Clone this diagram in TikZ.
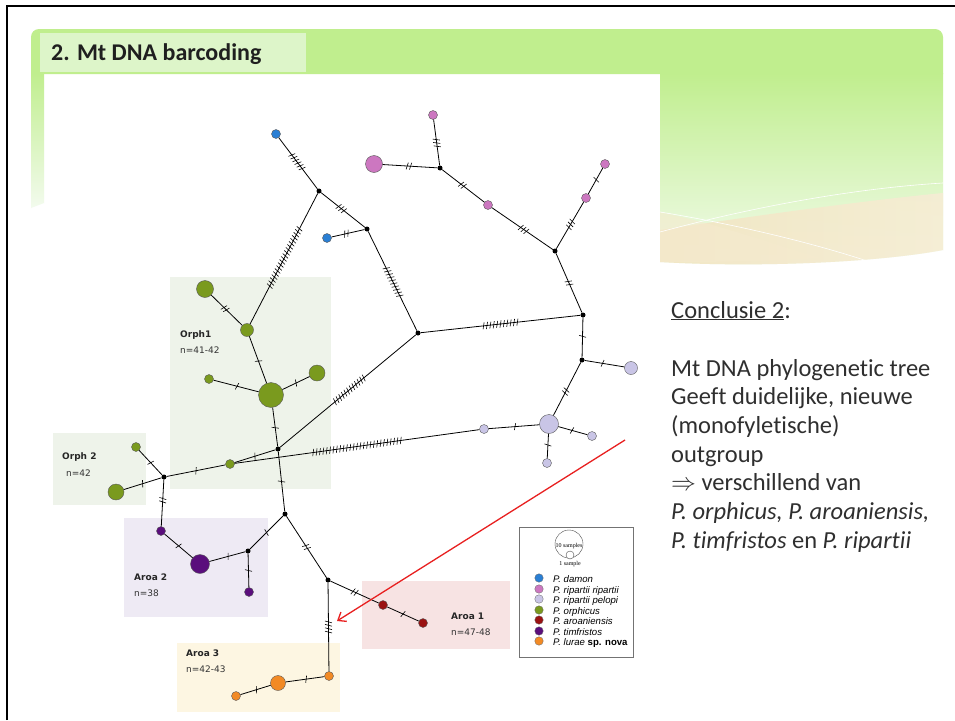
\documentclass[tikz,border=0pt]{standalone}
\usepackage{fontspec}
\setmainfont{Carlito}[Ligatures={TeX,NoCommon}]
\newfontfamily\verd{DejaVu Sans}
\newfontfamily\arial{Liberation Sans}
\newfontfamily\tnr{Liberation Serif}
\usetikzlibrary{calc,arrows.meta}
\definecolor{cdam}{HTML}{2A7FD4}
\definecolor{crip}{HTML}{CC77C0}
\definecolor{cpel}{HTML}{C9C5E6}
\definecolor{corph}{HTML}{7A9A1E}
\definecolor{caro}{HTML}{9A1212}
\definecolor{ctim}{HTML}{5A0E7C}
\definecolor{clur}{HTML}{F28A25}
\definecolor{bxO}{HTML}{EEF3EA}
\definecolor{bxAtwo}{HTML}{EEEAF4}
\definecolor{bxAone}{HTML}{F7E3E3}
\definecolor{bxAthree}{HTML}{FDF6E2}
\definecolor{hdrc}{HTML}{C0EE8E}
\definecolor{ttlc}{HTML}{DDF5C9}
\definecolor{palegr}{HTML}{F3FBEE}
\definecolor{beige}{HTML}{F2E5C2}
\definecolor{txtc}{HTML}{2F2F2F}
\definecolor{arrred}{HTML}{E82020}
\newcommand\tks[4]{%
  \path (#1) -- (#2) coordinate[pos=#4] (tkc);
  \foreach \i in {1,...,#3}{%
    \pgfmathsetmacro\tkoff{(\i-(#3+1)/2)*3.4}%
    \coordinate (tkp) at ($(tkc)!\tkoff pt!(#2)$);
    \draw[tkl] ($(tkp)!3.6pt!75:(#2)$) -- ($(tkp)!3.6pt!-105:(#2)$);
  }}
\begin{document}
\begin{tikzpicture}[x=1pt,y=-1pt,
  hap/.style={circle,draw=black!65,line width=0.4pt,inner sep=0pt,minimum size=9pt},
  jn/.style={circle,fill=black,inner sep=0pt,minimum size=5pt},
  lnk/.style={draw=black,line width=0.8pt},
  tkl/.style={draw=black,line width=0.6pt},
  grp/.style={anchor=north west,inner sep=0pt,draw=none},
  lab/.style={anchor=base west,inner sep=0pt,font=\verd\bfseries\fontsize{9}{10}\selectfont,text=black!85},
  labn/.style={anchor=base west,inner sep=0pt,font=\verd\fontsize{9}{10}\selectfont,text=black!80},
  ctxt/.style={anchor=base west,inner sep=0pt,font=\fontsize{24.5}{28}\selectfont,text=txtc},
  legt/.style={anchor=base west,inner sep=0pt,font=\arial\itshape\fontsize{9.6}{11}\selectfont},
  legd/.style={circle,draw=black!60,line width=0.3pt,inner sep=0pt,minimum size=8.5pt},
]
\useasboundingbox (0,0) rectangle (955,720);
\fill[white] (0,0) rectangle (955,720);
% slide frame
\draw[black,line width=2pt] (7,720) -- (7,6) -- (955,6);
% header band
\fill[hdrc] (31,74) [rounded corners=8pt] -- (31,29) -- (943,29) [sharp corners] -- (943,74) -- cycle;
\shade[top color=hdrc,bottom color=palegr] (31,73) -- (44,73) -- (44,203) -- (31,208) -- cycle;
\shade[top color=hdrc,bottom color=palegr] (660,73) -- (943,73) -- (943,250) .. controls (880,262) and (760,268) .. (660,262) -- cycle;
\shade[left color=beige,right color=beige!70,opacity=0.9] (660,230) .. controls (760,215) and (870,200) .. (943,193) -- (943,250) .. controls (880,262) and (760,268) .. (660,262) -- cycle;
\fill[beige!80!white,opacity=0.6] (660,212) .. controls (720,225) and (760,240) .. (820,258) .. controls (760,262) and (700,262) .. (660,262) -- cycle;
\draw[white,line width=0.6pt] (660,232) .. controls (760,205) and (860,188) .. (943,183);
\draw[white,line width=0.6pt] (660,212) .. controls (740,225) and (820,245) .. (870,262);
% title
\node[fill=ttlc,minimum width=266pt,minimum height=39pt,anchor=north west,inner sep=0pt] (tbox) at (40,33) {};
\node[anchor=base west,inner sep=0pt,font=\bfseries\fontsize{24}{28}\selectfont,text=black!88] (title) at (51,60) {2. Mt DNA barcoding};

% group boxes
\node[grp,fill=bxO,minimum width=161pt,minimum height=212pt] (gO1) at (170,277) {};
\node[grp,fill=bxO,minimum width=93pt,minimum height=72pt] (gO2) at (53,433) {};
\node[grp,fill=bxAtwo,minimum width=144pt,minimum height=99pt] (gA2) at (124,518) {};
\node[grp,fill=bxAone,minimum width=148pt,minimum height=68pt] (gA1) at (362,581) {};
\node[grp,fill=bxAthree,minimum width=163pt,minimum height=69pt] (gA3) at (177,643) {};

% group labels
\node[lab] (lO1) at (180,337) {Orph1};
\node[labn] (nO1) at (180,353) {n=41-42};
\node[lab] (lO2) at (62,459) {Orph 2};
\node[labn] (nO2) at (66,476) {n=42};
\node[lab] (lA2) at (134,580) {Aroa 2};
\node[labn] (nA2) at (134,596) {n=38};
\node[lab] (lA3) at (186,656) {Aroa 3};
\node[labn] (nA3) at (186,672) {n=42-43};
\node[lab] (lA1) at (451,619) {Aroa 1};
\node[labn] (nA1) at (451,635) {n=47-48};

% junctions
\node[jn] (J1) at (319,191) {};
\node[jn] (J2) at (367,229) {};
\node[jn] (J3) at (418,333) {};
\node[jn] (J4) at (440,168) {};
\node[jn] (J5) at (555,251) {};
\node[jn] (J6) at (583,315) {};
\node[jn] (J7) at (582,360) {};
\node[jn] (J8) at (278,449) {};
\node[jn] (J9) at (285,514) {};
\node[jn] (J10) at (164,477) {};
\node[jn] (J11) at (328,580) {};
\node[jn] (J12) at (248,551) {};
% haplotypes
\node[hap,fill=cdam] (dA) at (276,134) {};
\node[hap,fill=cdam] (dB) at (327,238) {};
\node[hap,fill=crip] (rT) at (433,115) {};
\node[hap,fill=crip,minimum size=17pt] (rBig) at (374,164) {};
\node[hap,fill=crip] (rM) at (488,205) {};
\node[hap,fill=crip] (rUR) at (605,164) {};
\node[hap,fill=crip] (rB) at (586,198) {};
\node[hap,fill=cpel,minimum size=13pt] (pR) at (631,368) {};
\node[hap,fill=cpel,minimum size=19pt] (pBig) at (549,424) {};
\node[hap,fill=cpel] (pS) at (484,429) {};
\node[hap,fill=cpel] (pRS) at (592,436) {};
\node[hap,fill=cpel] (pD) at (547,463) {};
\node[hap,fill=corph,minimum size=25pt] (oBig) at (271,395) {};
\node[hap,fill=corph,minimum size=13pt] (oM) at (247,330) {};
\node[hap,fill=corph,minimum size=17pt] (oT) at (205,289) {};
\node[hap,fill=corph] (oL) at (209,379) {};
\node[hap,fill=corph,minimum size=16pt] (oR) at (317,373) {};
\node[hap,fill=corph] (oS) at (230,464) {};
\node[hap,fill=corph] (oTL) at (136,447) {};
\node[hap,fill=corph,minimum size=16pt] (oBL) at (116,492) {};
\node[hap,fill=ctim,minimum size=19pt] (tBig) at (200,564) {};
\node[hap,fill=ctim] (tTL) at (161,531) {};
\node[hap,fill=ctim] (tB) at (249,592) {};
\node[hap,fill=caro] (aA) at (383,605) {};
\node[hap,fill=caro] (aB) at (423,623) {};
\node[hap,fill=clur] (lR) at (329,676) {};
\node[hap,fill=clur,minimum size=15pt] (lBig) at (278,683) {};
\node[hap,fill=clur] (lL) at (236,696) {};

% connectors
\draw[lnk] (dA) -- (J1); \tks{dA}{J1}{6}{0.47}
\draw[lnk] (J1) -- (J2); \tks{J1}{J2}{3}{0.46}
\draw[lnk] (J2) -- (dB); \tks{J2}{dB}{2}{0.55}
\draw[lnk] (J1) -- (oM); \tks{J1}{oM}{20}{0.49}
\draw[lnk] (J2) -- (J3); \tks{J2}{J3}{10}{0.51}
\draw[lnk] (J3) -- (J6); \tks{J3}{J6}{11}{0.5}
\draw[lnk] (J6) -- (J5); \tks{J6}{J5}{2}{0.5}
\draw[lnk] (J5) -- (rB); \tks{J5}{rB}{3}{0.52}
\draw[lnk] (rB) -- (rUR); \tks{rB}{rUR}{1}{0.55}
\draw[lnk] (J5) -- (rM); \tks{J5}{rM}{3}{0.48}
\draw[lnk] (rM) -- (J4); \tks{rM}{J4}{2}{0.52}
\draw[lnk] (J4) -- (rBig); \tks{J4}{rBig}{2}{0.52}
\draw[lnk] (J4) -- (rT); \tks{J4}{rT}{3}{0.49}
\draw[lnk] (J6) -- (J7); \tks{J6}{J7}{1}{0.47}
\draw[lnk] (J7) -- (pR); \tks{J7}{pR}{1}{0.45}
\draw[lnk] (J7) -- (pBig); \tks{J7}{pBig}{2}{0.55}
\draw[lnk] (pBig) -- (pRS); \tks{pBig}{pRS}{1}{0.47}
\draw[lnk] (pBig) -- (pD); \tks{pBig}{pD}{1}{0.46}
\draw[lnk] (pBig) -- (pS); \tks{pBig}{pS}{1}{0.48}
\draw[lnk] (pS) -- (oS); \tks{pS}{oS}{27}{0.5}
\draw[lnk] (J3) -- (J8); \tks{J3}{J8}{12}{0.49}
\draw[lnk] (J8) -- (oBig); \tks{J8}{oBig}{1}{0.48}
\draw[lnk] (J8) -- (oS); \tks{J8}{oS}{1}{0.5}
\draw[lnk] (oBig) -- (oM); \tks{oBig}{oM}{1}{0.47}
\draw[lnk] (oM) -- (oT); \tks{oM}{oT}{2}{0.55}
\draw[lnk] (oBig) -- (oL); \tks{oBig}{oL}{1}{0.48}
\draw[lnk] (oBig) -- (oR); \tks{oBig}{oR}{1}{0.5}
\draw[lnk] (oS) -- (J10); \tks{oS}{J10}{1}{0.5}
\draw[lnk] (J10) -- (oTL); \tks{J10}{oTL}{1}{0.5}
\draw[lnk] (J10) -- (oBL); \tks{J10}{oBL}{1}{0.5}
\draw[lnk] (J10) -- (tTL); \tks{J10}{tTL}{2}{0.44}
\draw[lnk] (J8) -- (J9); \tks{J8}{J9}{1}{0.5}
\draw[lnk] (J9) -- (J12); \tks{J9}{J12}{1}{0.5}
\draw[lnk] (J12) -- (tBig); \tks{J12}{tBig}{1}{0.48}
\draw[lnk] (tBig) -- (tTL); \tks{tBig}{tTL}{1}{0.5}
\draw[lnk] (J12) -- (tB); \tks{J12}{tB}{1}{0.5}
\draw[lnk] (J9) -- (J11); \tks{J9}{J11}{2}{0.5}
\draw[lnk] (J11) -- (aA); \tks{J11}{aA}{2}{0.5}
\draw[lnk] (aA) -- (aB); \tks{aA}{aB}{1}{0.5}
\draw[lnk] (J11) -- (lR); \tks{J11}{lR}{4}{0.5}
\draw[lnk] (lR) -- (lBig); \tks{lR}{lBig}{1}{0.47}
\draw[lnk] (lBig) -- (lL); \tks{lBig}{lL}{1}{0.47}

% legend
\node[draw=black!55,line width=0.5pt,fill=white,minimum width=114pt,minimum height=130pt,inner sep=0pt,anchor=north west] (leg) at (519,527) {};
\node[circle,draw=black!70,line width=0.4pt,minimum width=28pt,minimum height=25pt,inner sep=0pt] (lgBig) at (569,544) {};
\node[font=\tnr\fontsize{6}{7}\selectfont,inner sep=0pt] (lgBigT) at (569,546) {10 samples};
\node[circle,draw=black!70,line width=0.4pt,minimum size=8pt,inner sep=0pt,fill=white] (lgSm) at (570,555) {};
\node[font=\tnr\fontsize{6}{7}\selectfont,inner sep=0pt] (lgSmT) at (570,564) {1 sample};
\node[legd,fill=cdam] (ld1) at (539,578) {};
\node[legt] (lt1) at (553,582) {P. damon};
\node[legd,fill=crip] (ld2) at (539,589) {};
\node[legt] (lt2) at (553,593) {P. ripartii ripartii};
\node[legd,fill=cpel] (ld3) at (539,599) {};
\node[legt] (lt3) at (553,603) {P. ripartii pelopi};
\node[legd,fill=corph] (ld4) at (539,610) {};
\node[legt] (lt4) at (553,614) {P. orphicus};
\node[legd,fill=caro] (ld5) at (539,620) {};
\node[legt] (lt5) at (553,624) {P. aroaniensis};
\node[legd,fill=ctim] (ld6) at (539,631) {};
\node[legt] (lt6) at (553,635) {P. timfristos};
\node[legd,fill=clur] (ld7) at (539,641) {};
\node[legt] (lt7) at (553,645) {P. lurae {\upshape\bfseries sp. nova}};

% red arrow
\coordinate (arS) at (625,440);
\coordinate (arE) at (337,621);
\draw[arrred,line width=1.3pt,-{Straight Barb[length=7pt,width=11pt]}] (arS) -- (arE);

% conclusion text
\node[ctxt] (c0) at (671,318) {\underline{Conclusie 2}:};
\node[ctxt] (c1) at (671,376) {Mt DNA phylogenetic tree};
\node[ctxt] (c2) at (671,404.7) {Geeft duidelijke, nieuwe};
\node[ctxt] (c3) at (671,433.4) {(monofyletische)};
\node[ctxt] (c4) at (671,462.1) {outgroup};
\node[ctxt] (c5) at (671,490.8) {$\Rightarrow$ verschillend van};
\node[ctxt] (c6) at (671,519.5) {\itshape P. orphicus, P. aroaniensis,};
\node[ctxt] (c7) at (671,548.2) {\itshape P. timfristos {\upshape en} P. ripartii};
\end{tikzpicture}
\end{document}
